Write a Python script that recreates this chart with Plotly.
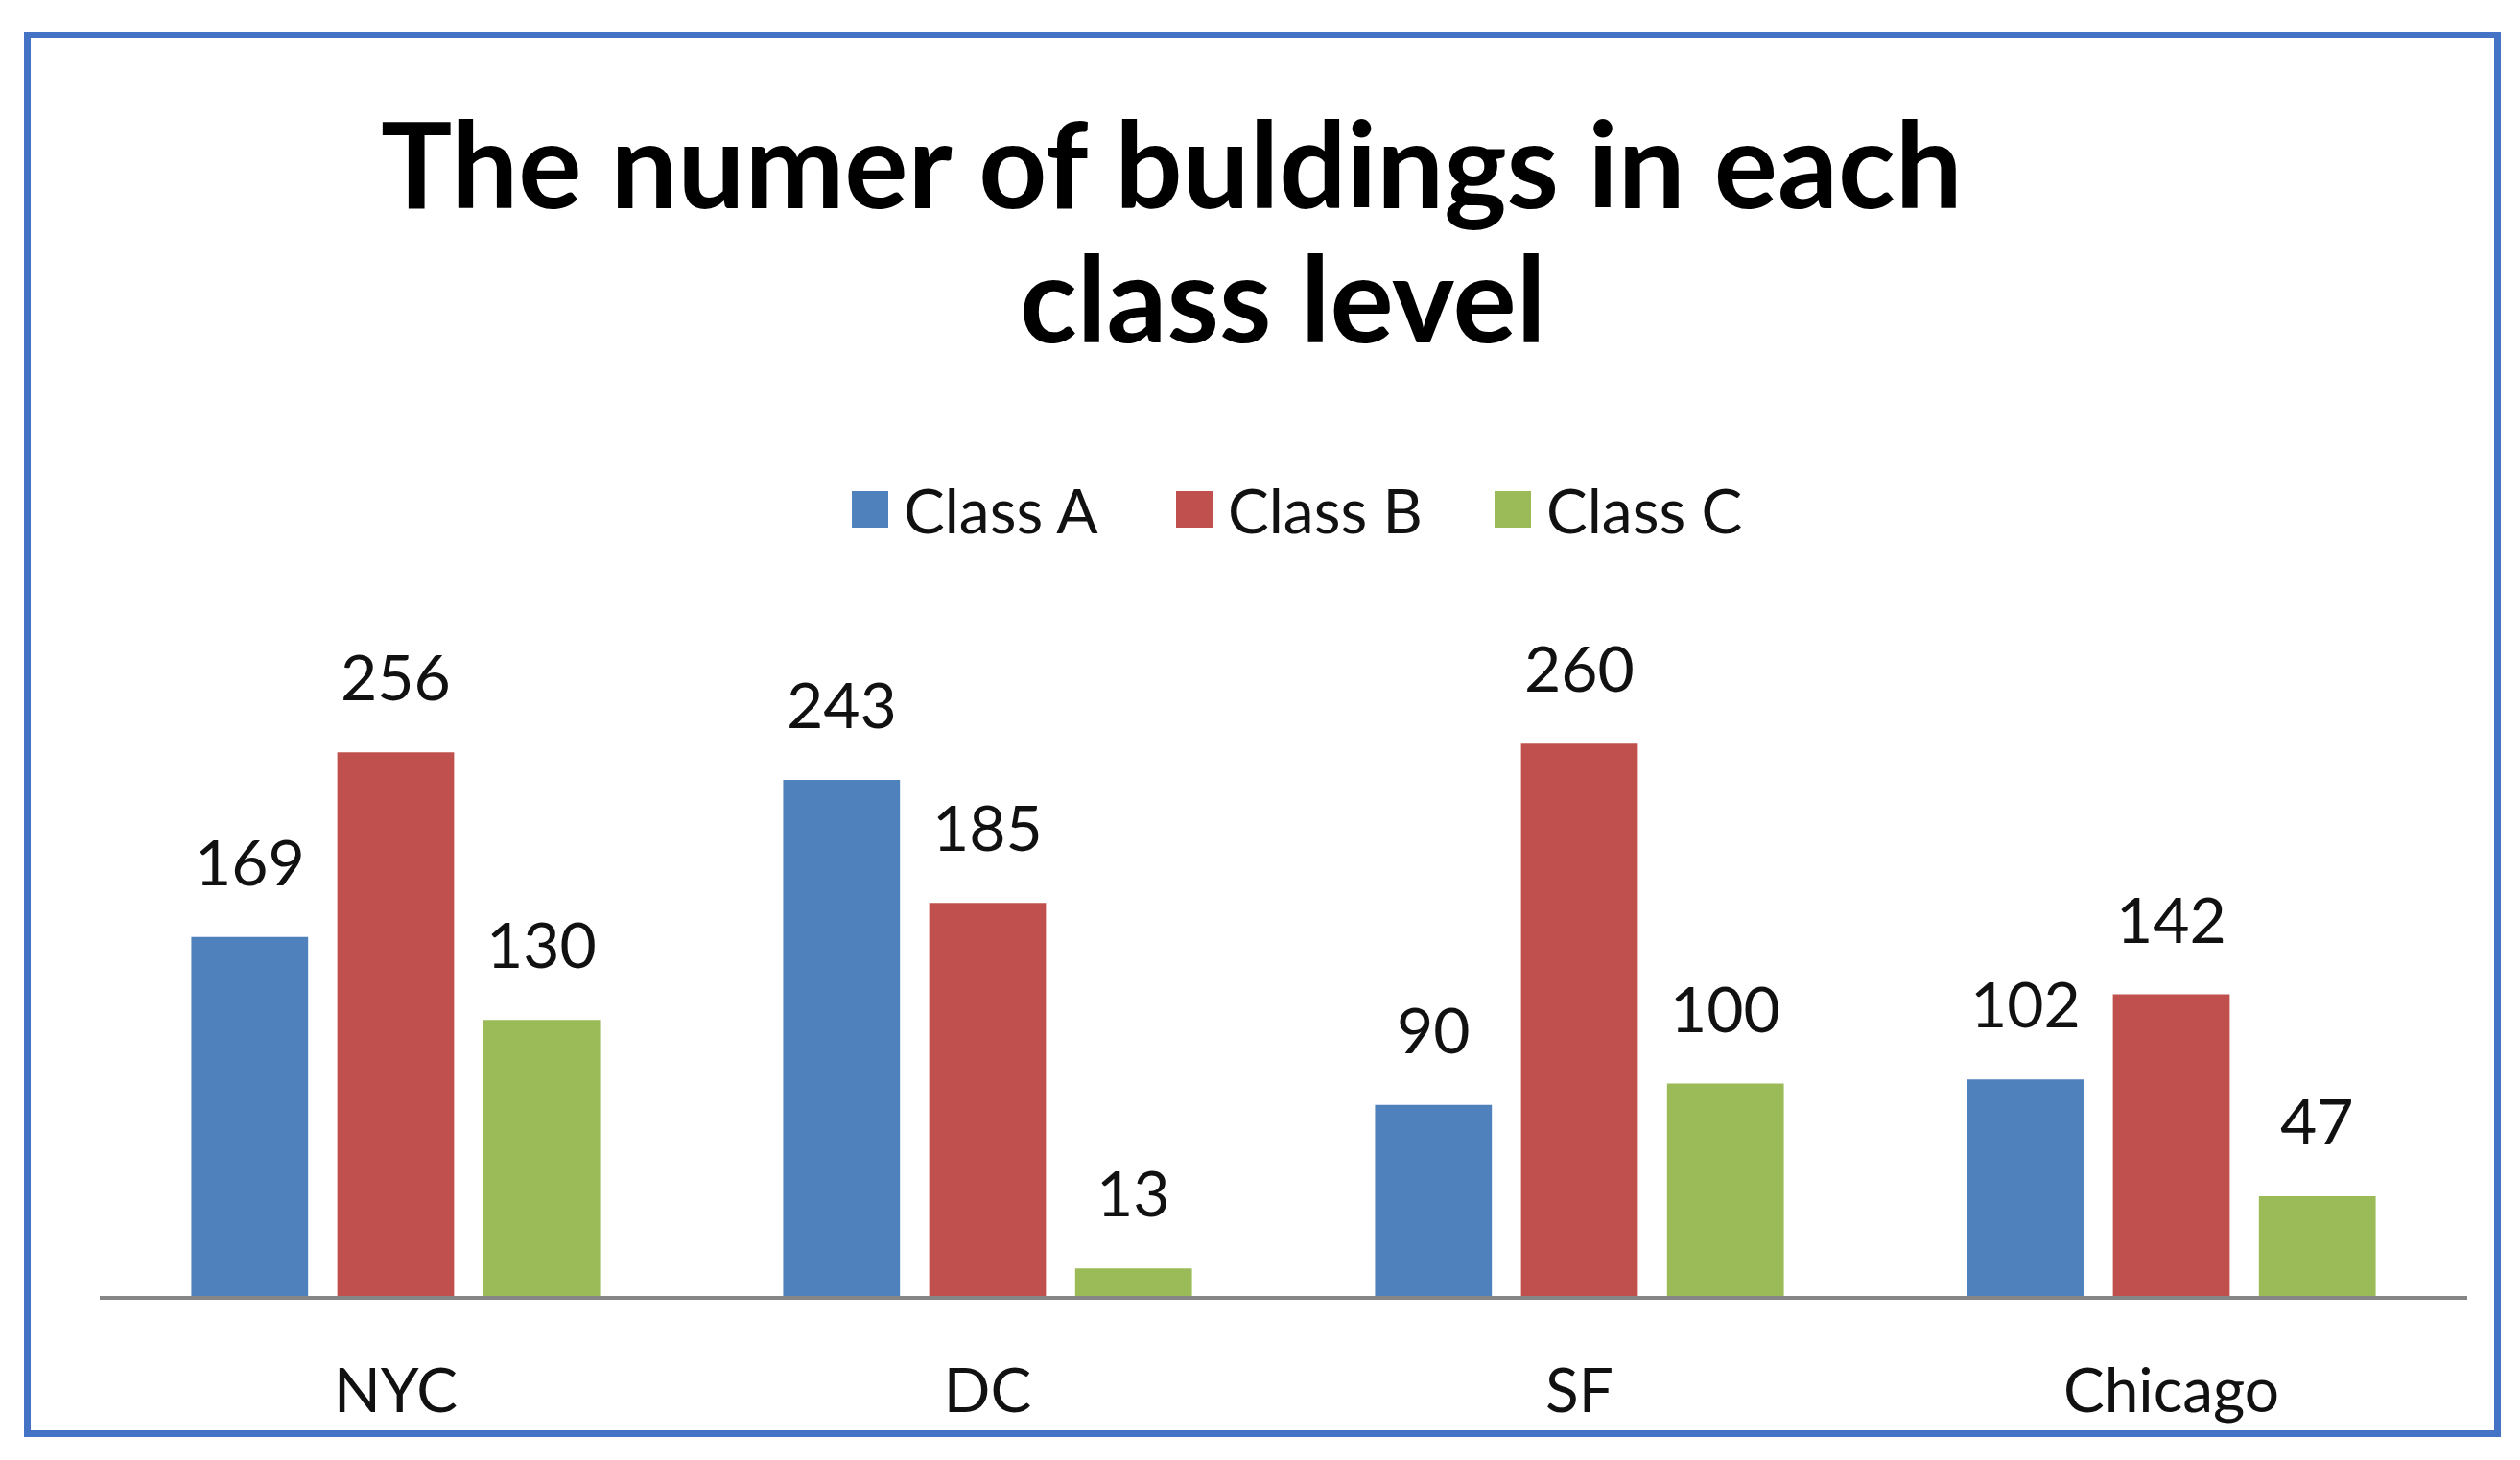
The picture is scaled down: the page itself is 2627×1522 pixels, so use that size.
import plotly.graph_objects as go

# data
cities = ["NYC", "DC", "SF", "Chicago"]
series_names = ["Class A", "Class B", "Class C"]
class_a = [169, 243, 90, 102]
class_b = [256, 185, 260, 142]
class_c = [130, 13, 100, 47]
title_lines = ["The numer of buldings in each", "class level"]

colors = ["#4F81BD", "#C0504D", "#9BBB59"]
FONT = "Lato, Carlito, Calibri, sans-serif"
INK = "#111111"

# figure geometry; the page body adds an 8px margin around the plot div
OFF = 8
FW, FH = 2611, 1506
ML, MR, MT, MB = 96, 47, 723, 163
PW, PH = FW - ML - MR, FH - MT - MB
Y_MAX = 280
BARGAP, BARGROUPGAP = 0.26, 0.2


def px(x):
    # page pixel -> paper x
    return (x - OFF - ML) / PW


def py(y):
    # page pixel -> paper y
    return (FH - MB - (y - OFF)) / PH


fig = go.Figure()
for name, vals, col in zip(series_names, [class_a, class_b, class_c], colors):
    fig.add_trace(go.Bar(x=cities, y=vals, name=name, marker_color=col,
                         marker_line_width=0, showlegend=False))

annotations = []
shapes = []

# value labels above each bar
slot = PW / len(cities) * (1 - BARGAP) / len(series_names)
for i, vals in enumerate([class_a, class_b, class_c]):
    for city, v in zip(cities, vals):
        annotations.append(dict(
            x=city, y=v, xref="x", yref="y", text=str(v), showarrow=False,
            xshift=(i - 1) * slot, yshift=38, yanchor="bottom",
            font=dict(family=FONT, size=66, color=INK),
        ))

# title, two lines placed as in the original
for line, (cx, cy) in zip(title_lines, [(1221, 169), (1337, 309)]):
    annotations.append(dict(x=px(cx), y=py(cy), xref="paper", yref="paper",
                            text="<b>%s</b>" % line, showarrow=False,
                            xanchor="center", yanchor="middle",
                            font=dict(family=FONT, size=124, color="#000000")))

# legend drawn by hand so the swatches can be large
leg_x = [888, 1226, 1558]
leg_y, sw = 531, 38
for x0, name, col in zip(leg_x, series_names, colors):
    shapes.append(dict(type="rect", xref="paper", yref="paper",
                       x0=px(x0), x1=px(x0 + sw),
                       y0=py(leg_y + sw / 2), y1=py(leg_y - sw / 2),
                       fillcolor=col, line_width=0))
    annotations.append(dict(x=px(x0 + sw + 14), y=py(leg_y), xref="paper", yref="paper",
                            text=name, showarrow=False, xanchor="left", yanchor="middle",
                            font=dict(family=FONT, size=64, color=INK)))

# outer blue frame
shapes.append(dict(type="rect", xref="paper", yref="paper",
                   x0=px(28.5), x1=px(2603.5), y0=py(1494.5), y1=py(36.5),
                   line=dict(color="#4472C4", width=7), fillcolor="rgba(0,0,0,0)"))

fig.update_layout(
    width=FW, height=FH,
    margin=dict(l=ML, r=MR, t=MT, b=MB, autoexpand=False),
    paper_bgcolor="white", plot_bgcolor="white",
    barmode="group", bargap=BARGAP, bargroupgap=BARGROUPGAP,
    font=dict(family=FONT, color=INK),
    annotations=annotations, shapes=shapes,
    xaxis=dict(showline=True, linecolor="#868686", linewidth=4, ticks="",
               showgrid=False, tickfont=dict(family=FONT, size=64, color=INK),
               ticklabelstandoff=40, layer="below traces"),
    yaxis=dict(range=[0, Y_MAX], visible=False, showgrid=False, zeroline=False),
)

fig.write_html("out.html")
